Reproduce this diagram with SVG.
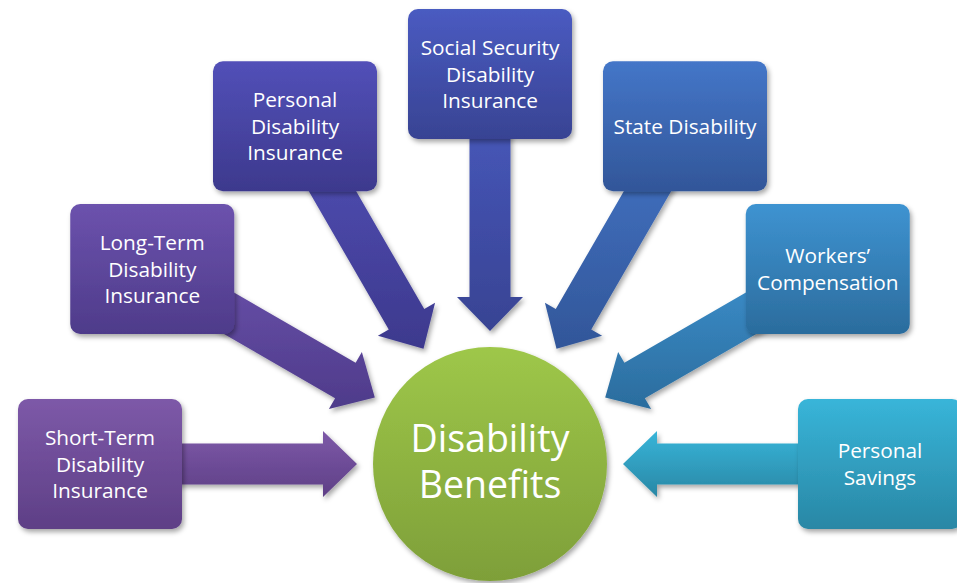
<svg xmlns="http://www.w3.org/2000/svg" width="957" height="583" viewBox="0 0 957 583">
  <defs>
    <filter id="shadow" x="-20%" y="-20%" width="150%" height="150%">
      <feDropShadow dx="2" dy="3" stdDeviation="2.5" flood-color="#000" flood-opacity="0.35"/>
    </filter>
    <linearGradient id="g-st" x1="0" y1="0" x2="0" y2="1"><stop offset="0" stop-color="#7d59a8"/><stop offset="1" stop-color="#5e3f86"/></linearGradient>
    <linearGradient id="g-lt" x1="0" y1="0" x2="0" y2="1"><stop offset="0" stop-color="#6c52ad"/><stop offset="1" stop-color="#4e3b8a"/></linearGradient>
    <linearGradient id="g-pd" x1="0" y1="0" x2="0" y2="1"><stop offset="0" stop-color="#5250b8"/><stop offset="1" stop-color="#3d398d"/></linearGradient>
    <linearGradient id="g-ss" x1="0" y1="0" x2="0" y2="1"><stop offset="0" stop-color="#4a5bc1"/><stop offset="1" stop-color="#384393"/></linearGradient>
    <linearGradient id="g-sd" x1="0" y1="0" x2="0" y2="1"><stop offset="0" stop-color="#4476c8"/><stop offset="1" stop-color="#325699"/></linearGradient>
    <linearGradient id="g-wc" x1="0" y1="0" x2="0" y2="1"><stop offset="0" stop-color="#3e93d1"/><stop offset="1" stop-color="#2b6c9d"/></linearGradient>
    <linearGradient id="g-ps" x1="0" y1="0" x2="0" y2="1"><stop offset="0" stop-color="#38b5d9"/><stop offset="1" stop-color="#2987a5"/></linearGradient>
    <linearGradient id="g-hub" x1="0" y1="0" x2="0" y2="1"><stop offset="0" stop-color="#9ec749"/><stop offset="1" stop-color="#7e9f39"/></linearGradient>
  </defs>
  <style>
    .box { filter: url(#shadow); }
    .arrow { filter: url(#shadow); }
    text { font-family: "Open Sans", "Noto Sans", "Liberation Sans", sans-serif; fill: #ffffff; text-anchor: middle; }
    .lbl { font-size: 20.8px; }
    .hub-lbl { font-size: 37.5px; }
  </style>

  <!-- block arrows, each running from a source box toward the hub -->
  <g id="connectors">
    <polygon class="arrow" fill="url(#g-st)" points="100,443.5 323,443.5 323,431 357,464 323,497 323,484.5 100,484.5"/>
    <polygon class="arrow" fill="url(#g-lt)" points="162.5,251.25 355.62,362.75 361.87,351.92 374.81,397.5 328.87,409.08 335.12,398.25 142,286.75"/>
    <polygon class="arrow" fill="url(#g-pd)" points="312.75,116 424.25,309.12 435.08,302.87 423.5,348.81 377.92,335.87 388.75,329.62 277.25,136.5"/>
    <polygon class="arrow" fill="url(#g-ss)" points="510.5,74 510.5,297 523,297 490,331 457,297 469.5,297 469.5,74"/>
    <polygon class="arrow" fill="url(#g-sd)" points="702.75,136.5 591.25,329.62 602.08,335.87 556.5,348.81 544.92,302.87 555.75,309.12 667.25,116"/>
    <polygon class="arrow" fill="url(#g-wc)" points="838,286.75 644.88,398.25 651.13,409.08 605.19,397.5 618.13,351.92 624.38,362.75 817.5,251.25"/>
    <polygon class="arrow" fill="url(#g-ps)" points="880,484.5 657,484.5 657,497 623,464 657,431 657,443.5 880,443.5"/>
  </g>

  <g id="short-term">
    <rect class="box" x="18" y="399" width="164" height="130" rx="10" fill="url(#g-st)"/>
    <text class="lbl" x="100" y="445">Short-Term</text>
    <text class="lbl" x="100" y="471.5">Disability</text>
    <text class="lbl" x="100" y="498">Insurance</text>
  </g>

  <g id="long-term">
    <rect class="box" x="70.25" y="204" width="164" height="130" rx="10" fill="url(#g-lt)"/>
    <text class="lbl" x="152.25" y="250">Long-Term</text>
    <text class="lbl" x="152.25" y="276.5">Disability</text>
    <text class="lbl" x="152.25" y="303">Insurance</text>
  </g>

  <g id="personal-disability">
    <rect class="box" x="213" y="61.25" width="164" height="130" rx="10" fill="url(#g-pd)"/>
    <text class="lbl" x="295" y="107">Personal</text>
    <text class="lbl" x="295" y="133.5">Disability</text>
    <text class="lbl" x="295" y="160">Insurance</text>
  </g>

  <g id="social-security">
    <rect class="box" x="408" y="9" width="164" height="130" rx="10" fill="url(#g-ss)"/>
    <text class="lbl" x="490" y="55">Social Security</text>
    <text class="lbl" x="490" y="81.5">Disability</text>
    <text class="lbl" x="490" y="108">Insurance</text>
  </g>

  <g id="state-disability">
    <rect class="box" x="603" y="61.25" width="164" height="130" rx="10" fill="url(#g-sd)"/>
    <text class="lbl" x="685" y="134">State Disability</text>
  </g>

  <g id="workers-comp">
    <rect class="box" x="745.75" y="204" width="164" height="130" rx="10" fill="url(#g-wc)"/>
    <text class="lbl" x="827.75" y="263">Workers’</text>
    <text class="lbl" x="827.75" y="289.5">Compensation</text>
  </g>

  <g id="personal-savings">
    <rect class="box" x="798" y="399" width="164" height="130" rx="10" fill="url(#g-ps)"/>
    <text class="lbl" x="880" y="458">Personal</text>
    <text class="lbl" x="880" y="484.5">Savings</text>
  </g>

  <g id="hub">
    <circle class="box" cx="490" cy="464" r="117" fill="url(#g-hub)"/>
    <text class="hub-lbl" x="490" y="452">Disability</text>
    <text class="hub-lbl" x="490" y="498">Benefits</text>
  </g>
</svg>
